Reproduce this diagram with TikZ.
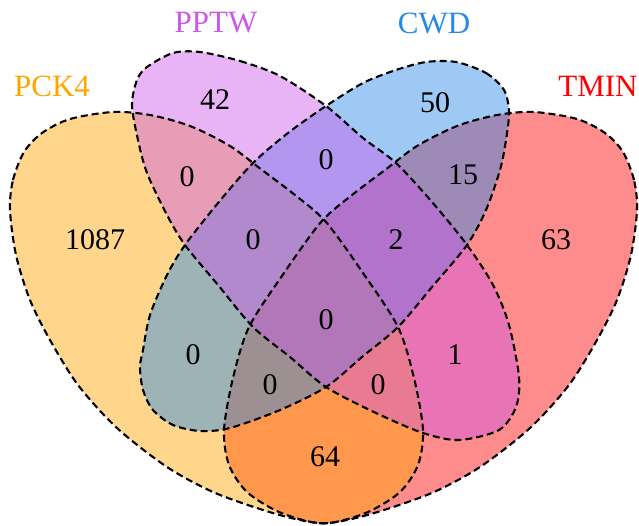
\documentclass[tikz,border=0pt]{standalone}
\usepackage{fontspec}
\setmainfont{Liberation Serif}
\definecolor{cA}{HTML}{FFA500}
\definecolor{cB}{HTML}{CC58E9}
\definecolor{cC}{HTML}{2788E9}
\definecolor{cD}{HTML}{FF0000}
\begin{document}
\begin{tikzpicture}[x=1pt,y=-1pt,
  outline/.style={draw=black, dash pattern=on 7pt off 4pt, line width=2.1pt},
  setfill/.style={fill=#1, fill opacity=0.45},
  num/.style={font=\fontsize{30}{36}\selectfont, text=black, inner sep=0pt},
  setname/.style={font=\fontsize{31}{37}\selectfont, inner sep=0pt}]
\useasboundingbox (0,0) rectangle (639,525);
% PCK4 outline; TMIN is its mirror image
\path[save path=\pA] plot[smooth cycle] coordinates {
 (10,210) (13,180) (24,152) (42,133) (70,119) (113,112) (150,115) (190,126)
 (230,146) (262,170) (295,195) (326,222) (363,273) (398,327) (414,378)
 (423,430) (418,465) (400,492) (368,512) (330,523) (300,520) (263,510)
 (213,492) (167,467) (117,428) (78,385) (50,340) (30,300) (16,255)};
\begin{scope}[xshift=647pt, xscale=-1]
\path[save path=\pD] plot[smooth cycle] coordinates {
 (10,210) (13,180) (24,152) (42,133) (70,119) (113,112) (150,115) (190,126)
 (230,146) (262,170) (295,195) (326,222) (363,273) (398,327) (414,378)
 (423,430) (418,465) (400,492) (368,512) (330,523) (300,520) (263,510)
 (213,492) (167,467) (117,428) (78,385) (50,340) (30,300) (16,255)};
\end{scope}
\path[save path=\pB] plot[smooth cycle] coordinates {
 (200,52) (240,61) (280,76) (326,106) (363,138) (396,163) (432,202) (467,245)
 (493,285) (509,325) (519,377) (516,407) (499,430) (459,440) (423,433)
 (376,413) (326,387) (290,357) (253,327) (218,285) (185,245) (167,215)
 (147,173) (138,140) (132,105) (137,80) (147,67) (173,53)};
\path[save path=\pC] plot[smooth cycle] coordinates {
 (456,62) (486,73) (504,90) (509,112) (506,140) (500,170) (486,210) (467,245)
 (432,287) (398,327) (362,357) (326,387) (280,410) (230,428) (200,431)
 (173,425) (153,410) (143,390) (140,367) (143,350) (150,315) (167,275)
 (185,245) (218,203) (253,163) (288,133) (326,106) (363,83) (396,70) (426,62)};
\fill[setfill=cD, use path=\pD];
\fill[setfill=cA, use path=\pA];
\fill[setfill=cC, use path=\pC];
\fill[setfill=cB, use path=\pB];
\draw[outline, use path=\pD];
\draw[outline, use path=\pA];
\draw[outline, use path=\pB];
\draw[outline, use path=\pC];
% set names
\node[setname, text=cA] (lA) at (52,86) {PCK4};
\node[setname, text=cB] (lB) at (216,23) {PPTW};
\node[setname, text=cC] (lC) at (434,23) {CWD};
\node[setname, text=cD] (lD) at (598,86) {TMIN};
% counts
\node[num] (nB) at (215,100) {42};
\node[num] (nC) at (435,103) {50};
\node[num] (nAB) at (187,177) {0};
\node[num] (nBC) at (326,160) {0};
\node[num] (nCD) at (463,175) {15};
\node[num] (nA) at (95,240) {1087};
\node[num] (nABC) at (253,240) {0};
\node[num] (nBCD) at (396,240) {2};
\node[num] (nD) at (556,240) {63};
\node[num] (nABCD) at (326,320) {0};
\node[num] (nAC) at (193,355) {0};
\node[num] (nBD) at (455,355) {1};
\node[num] (nACD) at (270,385) {0};
\node[num] (nABD) at (378,385) {0};
\node[num] (nAD) at (325,457) {64};
\end{tikzpicture}
\end{document}
